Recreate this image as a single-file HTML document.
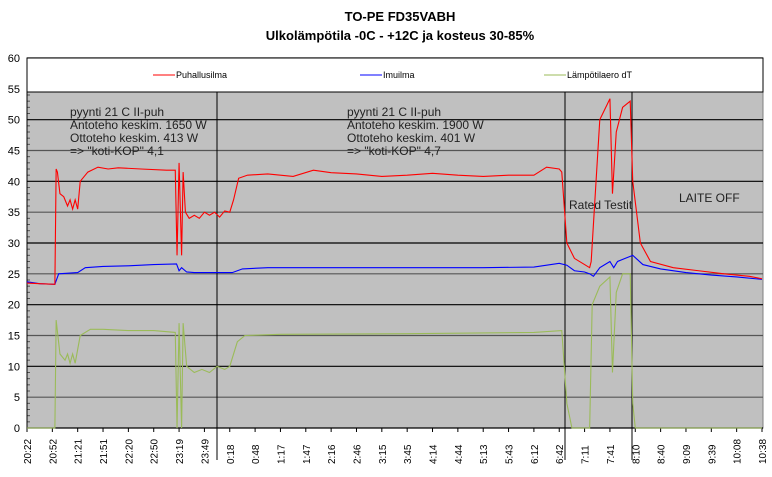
<!DOCTYPE html>
<html><head><meta charset="utf-8">
<style>
body{margin:0;background:#fff;font-family:"Liberation Sans",sans-serif;}
svg text{font-family:"Liberation Sans",sans-serif;}
</style></head>
<body>
<svg id="chart" width="772" height="472" xmlns="http://www.w3.org/2000/svg">
<text x="400" y="21" text-anchor="middle" font-size="13" font-weight="bold">TO-PE FD35VABH</text>
<text x="400" y="40" text-anchor="middle" font-size="13" font-weight="bold">Ulkolämpötila -0C - +12C ja kosteus 30-85%</text>
<g id="plot"></g>
</svg>
<script>
const xLabels=["20:22","20:52","21:21","21:51","22:20","22:50","23:19","23:49","0:18","0:48","1:17","1:47","2:16","2:46","3:15","3:45","4:14","4:44","5:13","5:43","6:12","6:42","7:11","7:41","8:10","8:40","9:09","9:39","10:08","10:38"];
const yTicks=[0,5,10,15,20,25,30,35,40,45,50,55,60];
const redT=[0,0.5,1.1,1.15,1.2,1.3,1.45,1.6,1.7,1.8,1.9,2.0,2.1,2.4,2.8,3.2,3.6,4.5,5.5,5.85,5.92,6.0,6.1,6.16,6.25,6.4,6.6,6.8,7.0,7.2,7.4,7.6,7.8,8.0,8.15,8.35,8.7,9.5,10.5,11.3,12,13,14,15,16,17,18,19,20,20.5,21.0,21.1,21.3,21.6,22.0,22.2,22.26,22.6,23.0,23.1,23.25,23.5,23.8,23.9,24.2,24.6,25.5,26.5,27.5,28.5,29];
const redV=[23.5,23.4,23.3,42,41.5,38,37.5,36,37,35.5,37,35.5,40,41.5,42.3,42,42.2,42,41.8,41.8,28,43,28,41.5,35,34,34.5,34,35,34.5,35,34.2,35.2,35,37,40.5,41,41.2,40.8,41.8,41.4,41.2,40.8,41,41.3,41,40.8,41,41,42.3,42,41.5,30,27.5,26.5,26,27,50,53.4,38,48,52,53,40,30,27,26,25.5,25,24.6,24.2];
const blueT=[0,0.5,1.1,1.25,2.0,2.3,3.0,4,5,5.9,6.0,6.1,6.3,6.6,7.5,8.1,8.5,9.5,12,15,18,20,21,21.3,21.6,22.0,22.2,22.35,22.6,23.0,23.15,23.3,23.6,23.9,24.3,25,26,27,28,29];
const blueV=[23.7,23.4,23.3,25,25.2,26,26.2,26.3,26.5,26.6,25.5,26,25.3,25.2,25.2,25.2,25.8,26,26,26,26,26.1,26.7,26.4,25.5,25.3,25,24.6,26,27,26,27,27.5,28,26.5,25.8,25.2,24.8,24.5,24.1];
const greenT=[0,1.1,1.15,1.3,1.5,1.6,1.7,1.8,1.9,2.1,2.5,3,4,5,5.85,5.92,6.0,6.1,6.16,6.3,6.6,6.9,7.2,7.5,7.8,8.0,8.3,8.6,10,15,20,21.1,21.3,21.5,22.2,22.3,22.6,23.0,23.1,23.25,23.5,23.8,23.9,24.0,29];
const greenV=[0,0,17.5,12,11,12,10.5,12,10.5,15,16,16,15.8,15.8,15.5,0,17,0,17,10,9,9.5,9,10,9.5,10,14,15,15.2,15.3,15.5,15.8,4,0,0,20,23,24.5,9,22,25,25,4,0,0];

const NS="http://www.w3.org/2000/svg";
const L=27,R=763,Y0=428,YTOP=58;
const xs=t=>L+t*(R-1-L)/29;
const ys=v=>Y0-(v/60)*(Y0-YTOP);
const g=document.getElementById('plot');
function mk(tag,attrs){const e=document.createElementNS(NS,tag);for(const k in attrs)e.setAttribute(k,attrs[k]);g.appendChild(e);return e;}

const bg=mk('rect',{x:L,y:92,width:R-L,height:Y0-92,fill:'#c0c0c0',stroke:'#808080'});


yTicks.forEach(v=>{
  const ln=mk('line',{x1:L,x2:R,y1:ys(v),y2:ys(v),stroke:(v%10==0?'#000':'#555'),'stroke-width':1.2});
  
  
  const tx=mk('text',{x:20,y:ys(v)+4,'text-anchor':'end','font-size':11});
  tx.textContent=v;
  
  
});
for(let v=0;v<60;v++){ if(v%5) mk('line',{x1:L,x2:L+3,y1:ys(v),y2:ys(v),stroke:'#555'}); }
const lg=mk('rect',{x:L,y:YTOP,width:R-L,height:34,fill:'#fff',stroke:'#000'});


const legend=[["Puhallusilma","#ff0000",153],["Imuilma","#0000ff",360],["Lämpötilaero dT","#9bbb59",544]];
legend.forEach(([n,c,x])=>{
  mk('line',{x1:x,x2:x+22,y1:75,y2:75,stroke:c});
  const t=mk('text',{x:x+23,y:78,'font-size':9});
  t.textContent=n;
  
  
});
mk('line',{x1:L,x2:L,y1:YTOP,y2:Y0,stroke:'#000'});
mk('line',{x1:L,x2:R,y1:Y0,y2:Y0,stroke:'#000'});
xLabels.forEach((lab,i)=>{
  const x=xs(i);
  mk('line',{x1:x,x2:x,y1:Y0,y2:Y0+4,stroke:'#000'});
  const t=mk('text',{x:0,y:0,'font-size':10,transform:`translate(${x+4},${Y0+36}) rotate(-90)`});
  t.textContent=lab;
  
  
});
[[217,'separator-1'],[565,'separator-2'],[632,'separator-3']].forEach(([x,n])=>{
  const l=mk('line',{x1:x,x2:x,y1:92,y2:460,stroke:'#000'});
  
  
});
function series(T,V,c,n){
  const p=mk('polyline',{points:T.map((t,i)=>xs(t)+','+ys(V[i])).join(' '),fill:'none',stroke:c,'stroke-width':1.1});
  
  
}
series(greenT,greenV,'#9bbb59','series-lampotilaero');
series(blueT,blueV,'#0000ff','series-imuilma');
series(redT,redV,'#ff0000','series-puhallusilma');
function ann(x,y,lines,n){
  const t=mk('text',{x:x,y:y,'font-size':12,fill:'#222'});
  
  
  lines.forEach((s,i)=>{const ts=document.createElementNS(NS,'tspan');ts.setAttribute('x',x);ts.setAttribute('dy',i?13:0);ts.textContent=s;t.appendChild(ts);});
}
ann(70,116,["pyynti 21 C II-puh","Antoteho keskim. 1650 W","Ottoteho keskim. 413 W","=> \"koti-KOP\"  4,1"],'annotation-left');
ann(347,116,["pyynti 21 C II-puh","Antoteho keskim. 1900 W","Ottoteho keskim. 401 W","=> \"koti-KOP\"  4,7"],'annotation-middle');
ann(569,209,["Rated Testit"],'annotation-rated');
ann(679,202,["LAITE OFF"],'annotation-off');
</script>
</body></html>
